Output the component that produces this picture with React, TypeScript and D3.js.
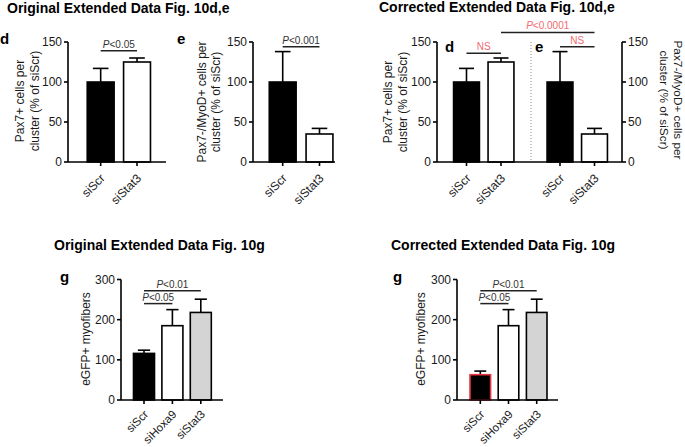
import React from "react";
import * as d3 from "d3";

const FONT = "'Liberation Sans', Arial, Helvetica, sans-serif";
const RED_TEXT = "#f26a6f";
const RED_LINE = "#e8343c";

// ---- data ----
const catsDE = ["siScr", "siStat3"];
const pax7Mean = [100, 125];
const pax7Err = [17, 5];
const myodMean = [100, 35];
const myodErr = [38, 7];
const ticksDE = [0, 50, 100, 150];

const catsG = ["siScr", "siHoxa9", "siStat3"];
const egfpOrigMean = [116, 185, 218];
const egfpOrigErr = [8, 40, 33];
const egfpCorrMean = [63, 185, 218];
const egfpCorrErr = [9, 40, 33];
const ticksG = [0, 100, 200, 300];

const fillsDE = ["#000000", "#ffffff"];
const fillsG = ["#000000", "#ffffff", "#d4d4d4"];

// ---- scales ----
const yTop = d3.scaleLinear().domain([0, 150]).range([162, 42]);
const yBot = d3.scaleLinear().domain([0, 300]).range([400, 279.5]);

const band = (cats: string[], r0: number, r1: number, p: number) =>
  d3.scaleBand<string>().domain(cats).range([r0, r1]).paddingInner(p).paddingOuter(p / 2);

const xOD = band(catsDE, 82.5, 155.2, 0.26);
const xOE = band(catsDE, 264.3, 337.9, 0.27);
const xCD = band(catsDE, 449.25, 518.25, 0.25);
const xCE = band(catsDE, 542.75, 611.75, 0.25);
const xOG = band(catsG, 129.8, 215, 0.26);
const xCG = band(catsG, 466.2, 550.8, 0.27);

const cx = (x: d3.ScaleBand<string>, c: string) => (x(c) as number) + x.bandwidth() / 2;

function Bars({ x, y, cats, means, errs, fills, strokes }: any) {
  const bw = x.bandwidth();
  const cap = bw * 0.58;
  return (
    <g>
      {cats.map((c: string, i: number) => {
        const x0 = x(c) as number;
        const m = cx(x, c);
        const top = y(means[i]);
        const et = y(means[i] + errs[i]);
        return (
          <g key={c}>
            <line x1={m} x2={m} y1={top} y2={et} stroke="#000" strokeWidth={1.6} />
            <line x1={m - cap / 2} x2={m + cap / 2} y1={et} y2={et} stroke="#000" strokeWidth={1.6} />
            <rect
              x={x0}
              y={top}
              width={bw}
              height={y(0) - top}
              fill={fills[i]}
              stroke={strokes ? strokes[i] : "#000"}
              strokeWidth={1.6}
            />
          </g>
        );
      })}
    </g>
  );
}

function YAxis({ ax, y, ticks, side }: any) {
  const dir = side === "right" ? 1 : -1;
  const [lo, hi] = [y(ticks[0]), y(ticks[ticks.length - 1])];
  return (
    <g>
      <line x1={ax} x2={ax} y1={lo} y2={hi} stroke="#000" strokeWidth={1.6} />
      {ticks.map((t: number) => (
        <g key={t}>
          <line x1={ax} x2={ax + dir * 4} y1={y(t)} y2={y(t)} stroke="#000" strokeWidth={1.6} />
          <text
            x={ax + dir * 6}
            y={y(t)}
            dy="0.36em"
            textAnchor={side === "right" ? "start" : "end"}
            fontSize={12}
            fontFamily={FONT}
            fill="#1a1a1a"
          >
            {t}
          </text>
        </g>
      ))}
    </g>
  );
}

function XAxis({ scales, y0, xa, xb, dy = 17, fs = 12 }: any) {
  return (
    <g>
      <line x1={xa} x2={xb} y1={y0} y2={y0} stroke="#000" strokeWidth={1.6} />
      {scales.map(([x, cats]: any, k: number) =>
        cats.map((c: string) => {
          const m = cx(x, c);
          return (
            <g key={k + c}>
              <line x1={m} x2={m} y1={y0} y2={y0 + 4} stroke="#000" strokeWidth={1.6} />
              <text
                transform={`translate(${m + 5},${y0 + dy}) rotate(-45)`}
                textAnchor="end"
                fontSize={fs}
                fontFamily={FONT}
                fill="#1a1a1a"
              >
                {c}
              </text>
            </g>
          );
        })
      )}
    </g>
  );
}

function Sig({ x1, x2, yy, label, color, italicP }: any) {
  const mid = (x1 + x2) / 2;
  return (
    <g>
      <line x1={x1} x2={x2} y1={yy} y2={yy} stroke="#222" strokeWidth={1.5} />
      <text x={mid} y={yy - 3} textAnchor="middle" fontSize={10} fontFamily={FONT} fill={color}>
        {italicP ? (
          <>
            <tspan fontStyle="italic">P</tspan>
            {label}
          </>
        ) : (
          label
        )}
      </text>
    </g>
  );
}

function VLabel({ lines, xs, cy, rot, fs = 12 }: any) {
  return (
    <g>
      {lines.map((l: string, i: number) => (
        <text
          key={i}
          transform={`translate(${xs[i]},${cy}) rotate(${rot})`}
          textAnchor="middle"
          fontSize={fs}
          fontFamily={FONT}
          fill="#1a1a1a"
        >
          {l}
        </text>
      ))}
    </g>
  );
}

const Title = ({ x, y, children }: any) => (
  <text x={x} y={y} fontSize={14} fontWeight="bold" fontFamily={FONT} fill="#000">
    {children}
  </text>
);
const Letter = ({ x, y, children }: any) => (
  <text x={x} y={y} fontSize={15} fontWeight="bold" fontFamily={FONT} fill="#000">
    {children}
  </text>
);

export default function App() {
  const pax7Lines = ["Pax7+ cells per", "cluster (% of siScr)"];
  const myodLines = ["Pax7-/MyoD+ cells per", "cluster (% of siScr)"];
  return (
    <svg
      width={685}
      height={447}
      style={{ position: "absolute", left: 0, top: 0, background: "#fff" }}
    >
      <rect width={685} height={447} fill="#fff" />
      {/* Titles */}
      <Title x={7} y={13}>Original Extended Data Fig. 10d,e</Title>
      <Title x={379} y={11.5}>Corrected Extended Data Fig. 10d,e</Title>
      <Title x={54} y={249.5}>Original Extended Data Fig. 10g</Title>
      <Title x={391} y={249.5}>Corrected Extended Data Fig. 10g</Title>

      {/* Original d */}
      <Letter x={0} y={44}>d</Letter>
      <VLabel lines={pax7Lines} xs={[24, 38.5]} cy={101} rot={-90} />
      <Bars x={xOD} y={yTop} cats={catsDE} means={pax7Mean} errs={pax7Err} fills={fillsDE} />
      <YAxis ax={68} y={yTop} ticks={ticksDE} />
      <XAxis scales={[[xOD, catsDE]]} y0={yTop(0)} xa={68} xb={166} />
      <Sig x1={cx(xOD, "siScr")} x2={cx(xOD, "siStat3")} yy={yTop(139)} label="<0.05" color="#333" italicP />

      {/* Original e */}
      <Letter x={177} y={44}>e</Letter>
      <VLabel lines={myodLines} xs={[205.5, 220]} cy={102} rot={-90} />
      <Bars x={xOE} y={yTop} cats={catsDE} means={myodMean} errs={myodErr} fills={fillsDE} />
      <YAxis ax={253} y={yTop} ticks={ticksDE} />
      <XAxis scales={[[xOE, catsDE]]} y0={yTop(0)} xa={253} xb={335} />
      <Sig x1={cx(xOE, "siScr")} x2={cx(xOE, "siStat3")} yy={yTop(144)} label="<0.001" color="#333" italicP />

      {/* Corrected d,e */}
      <VLabel lines={pax7Lines} xs={[391.5, 407]} cy={102} rot={-90} />
      <VLabel lines={myodLines} xs={[673.5, 660]} cy={100} rot={90} fs={11.8} />
      <Bars x={xCD} y={yTop} cats={catsDE} means={pax7Mean} errs={pax7Err} fills={fillsDE} />
      <Bars x={xCE} y={yTop} cats={catsDE} means={myodMean} errs={myodErr} fills={fillsDE} />
      <line x1={531} x2={531} y1={yTop(150)} y2={yTop(0)} stroke="#888" strokeWidth={1} strokeDasharray="1,2" />
      <YAxis ax={437} y={yTop} ticks={ticksDE} />
      <YAxis ax={622} y={yTop} ticks={ticksDE} side="right" />
      <XAxis scales={[[xCD, catsDE], [xCE, catsDE]]} y0={yTop(0)} xa={437} xb={622} />
      <Letter x={445} y={52}>d</Letter>
      <Letter x={535} y={52}>e</Letter>
      <Sig x1={cx(xCD, "siScr")} x2={cx(xCD, "siStat3")} yy={yTop(136)} label="NS" color={RED_TEXT} />
      <Sig x1={cx(xCE, "siScr")} x2={cx(xCE, "siStat3")} yy={yTop(144)} label="NS" color={RED_TEXT} />
      <Sig x1={cx(xCD, "siStat3")} x2={cx(xCE, "siStat3")} yy={yTop(162)} label="<0.0001" color={RED_TEXT} italicP />

      {/* Original g */}
      <Letter x={60} y={282}>g</Letter>
      <VLabel lines={["eGFP+ myofibers"]} xs={[90]} cy={339} rot={-90} />
      <Bars x={xOG} y={yBot} cats={catsG} means={egfpOrigMean} errs={egfpOrigErr} fills={fillsG} />
      <YAxis ax={121} y={yBot} ticks={ticksG} />
      <XAxis scales={[[xOG, catsG]]} y0={yBot(0)} xa={121} xb={223} dy={15} fs={11.5} />
      <Sig x1={cx(xOG, "siScr")} x2={cx(xOG, "siHoxa9")} yy={yBot(240)} label="<0.05" color="#333" italicP />
      <Sig x1={cx(xOG, "siScr")} x2={cx(xOG, "siStat3")} yy={yBot(272)} label="<0.01" color="#333" italicP />

      {/* Corrected g */}
      <Letter x={393} y={282}>g</Letter>
      <VLabel lines={["eGFP+ myofibers"]} xs={[424.5]} cy={339} rot={-90} />
      <Bars
        x={xCG}
        y={yBot}
        cats={catsG}
        means={egfpCorrMean}
        errs={egfpCorrErr}
        fills={fillsG}
        strokes={[RED_LINE, "#000", "#000"]}
      />
      <YAxis ax={457} y={yBot} ticks={ticksG} />
      <XAxis scales={[[xCG, catsG]]} y0={yBot(0)} xa={457} xb={558} dy={15} fs={11.5} />
      <Sig x1={cx(xCG, "siScr")} x2={cx(xCG, "siHoxa9")} yy={yBot(240)} label="<0.05" color="#333" italicP />
      <Sig x1={cx(xCG, "siScr")} x2={cx(xCG, "siStat3")} yy={yBot(272)} label="<0.01" color="#333" italicP />
    </svg>
  );
}
